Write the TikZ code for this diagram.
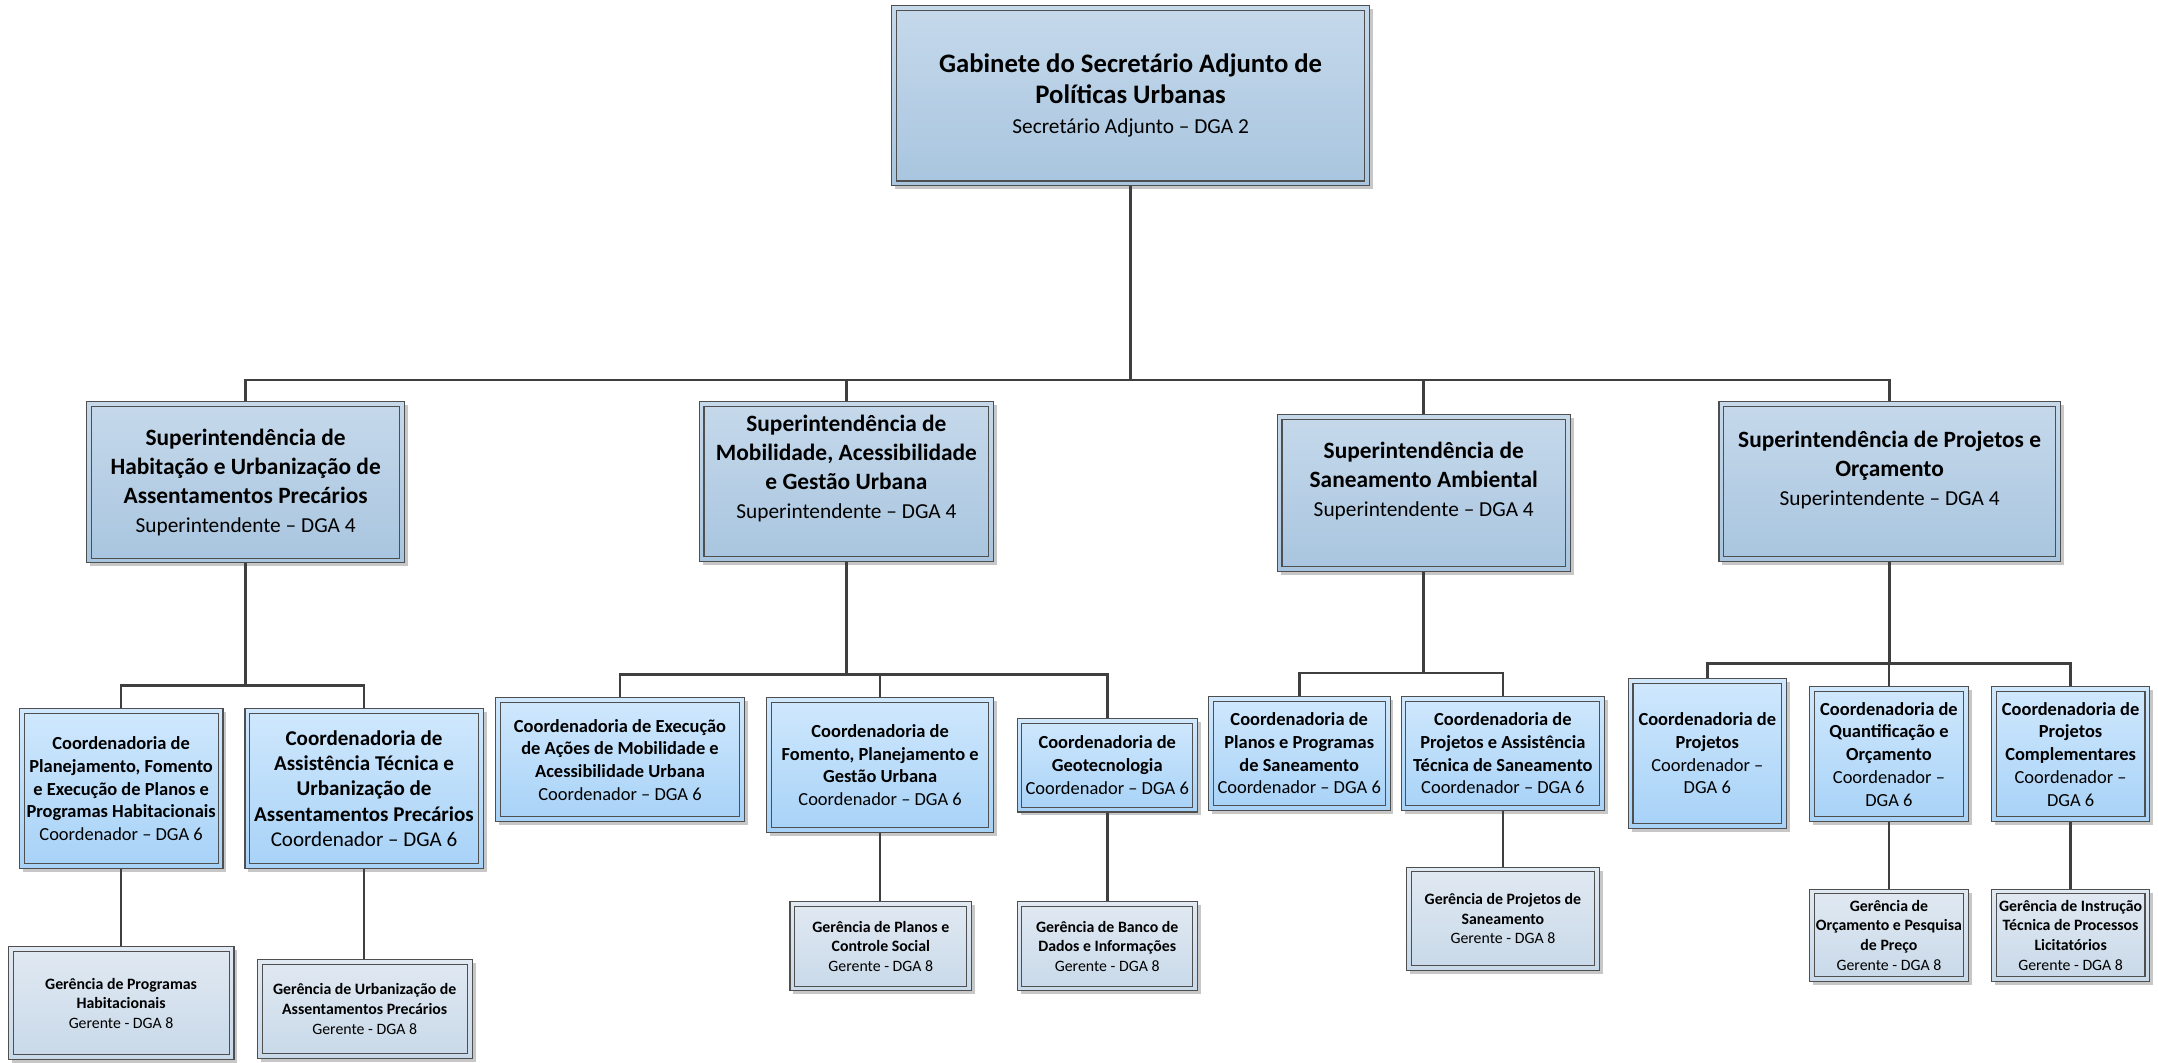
\documentclass[tikz,border=0pt]{standalone}
\usepackage{fontspec}
\setmainfont{Carlito}
\usetikzlibrary{shadows}
\definecolor{bordc}{HTML}{4F4F4F}
\definecolor{lnc}{HTML}{3F3F3F}
\definecolor{supT}{HTML}{C6D9EB}
\definecolor{supB}{HTML}{A8C5DF}
\definecolor{cT}{HTML}{D0E8FD}
\definecolor{cB}{HTML}{A7D2F7}
\definecolor{gT}{HTML}{E1E9F2}
\definecolor{gB}{HTML}{C8D9E9}
\newcommand\lowpad[1]{\rule[-#1]{0pt}{#1}}
\newcommand\subl[1]{{\fontsize{15.5}{19}\selectfont #1}}
\tikzset{
 orgbox/.style={rectangle, draw=bordc, line width=0.8pt, align=center, inner sep=1pt, text=black,
   drop shadow={shadow xshift=2.5pt, shadow yshift=-2.5pt, fill=black!22, opacity=1},
   path picture={\draw[bordc, line width=0.8pt] ([shift={(3.5pt,-3.5pt)}]path picture bounding box.north west) rectangle ([shift={(-3.5pt,3.5pt)}]path picture bounding box.south east);}},
 supbox/.style={orgbox, top color=supT, bottom color=supB, font=\fontsize{17}{21}\selectfont},
 topbox/.style={supbox, font=\fontsize{19.4}{22}\selectfont},
 cbox/.style={orgbox, top color=cT, bottom color=cB, font=\fontsize{13.4}{16.5}\selectfont},
 cboxbig/.style={cbox, font=\fontsize{15.3}{18.5}\selectfont},
 gbox/.style={orgbox, top color=gT, bottom color=gB, font=\fontsize{11.5}{14.3}\selectfont},
 conn/.style={draw=lnc, line width=1.9pt},
 sz/.style 2 args={minimum width=#1pt, minimum height=#2pt}
}
\begin{document}
\begin{tikzpicture}[x=1pt,y=-1pt]
\useasboundingbox (0,0) rectangle (1568,771.7);
\fill[white] (0,0) rectangle (1568,771.7);
% top
\node[topbox, sz={347}{131}] (top) at (821.5,69.5) {\textbf{Gabinete do Secretário Adjunto de}\\\textbf{Políticas Urbanas}\\\subl{Secretário Adjunto -- DGA 2}};
% superintendencias
\node[supbox, sz={231}{117}] (s1) at (178.5,350.5) {\textbf{Superintendência de}\\\textbf{Habitação e Urbanização de}\\\textbf{Assentamentos Precários}\\\subl{Superintendente -- DGA 4}};
\node[supbox, sz={214}{116}] (s2) at (615,350) {\textbf{Superintendência de}\\\textbf{Mobilidade, Acessibilidade}\\\textbf{e Gestão Urbana}\\\subl{Superintendente -- DGA 4\lowpad{22pt}}};
\node[supbox, sz={213}{114}] (s3) at (1034.5,358) {\textbf{Superintendência de}\\\textbf{Saneamento Ambiental}\\\subl{Superintendente -- DGA 4\lowpad{20pt}}};
\node[supbox, sz={248}{116}] (s4) at (1373,350) {\textbf{Superintendência de Projetos e}\\\textbf{Orçamento}\\\subl{Superintendente -- DGA 4\lowpad{20pt}}};
% coordenadorias
\node[cbox, sz={148}{116}] (c1a) at (88,573) {\textbf{Coordenadoria de}\\\textbf{Planejamento, Fomento}\\\textbf{e Execução de Planos e}\\\textbf{Programas Habitacionais}\\Coordenador -- DGA 6};
\node[cboxbig, sz={173}{116}] (c1b) at (264.5,573) {\textbf{Coordenadoria de}\\\textbf{Assistência Técnica e}\\\textbf{Urbanização de}\\\textbf{Assentamentos Precários}\\Coordenador -- DGA 6};
\node[cbox, sz={181}{90}] (c2a) at (450.5,552) {\textbf{Coordenadoria de Execução}\\\textbf{de Ações de Mobilidade e}\\\textbf{Acessibilidade Urbana}\\Coordenador -- DGA 6};
\node[cbox, sz={165}{98}] (c2b) at (639.5,556) {\textbf{Coordenadoria de}\\\textbf{Fomento, Planejamento e}\\\textbf{Gestão Urbana}\\Coordenador -- DGA 6};
\node[cbox, sz={131}{68}] (c2c) at (804.5,556) {\textbf{Coordenadoria de}\\\textbf{Geotecnologia}\\Coordenador -- DGA 6};
\node[cbox, sz={132}{83}] (c3a) at (944,547.5) {\textbf{Coordenadoria de}\\\textbf{Planos e Programas}\\\textbf{de Saneamento}\\Coordenador -- DGA 6};
\node[cbox, sz={148}{83}] (c3b) at (1092,547.5) {\textbf{Coordenadoria de}\\\textbf{Projetos e Assistência}\\\textbf{Técnica de Saneamento}\\Coordenador -- DGA 6};
\node[cbox, sz={115}{109}] (c4a) at (1240.5,547.5) {\textbf{Coordenadoria de}\\\textbf{Projetos}\\Coordenador --\\DGA 6};
\node[cbox, sz={115}{98}] (c4b) at (1372.5,548) {\textbf{Coordenadoria de}\\\textbf{Quantificação e}\\\textbf{Orçamento}\\Coordenador --\\DGA 6};
\node[cbox, sz={115}{98}] (c4c) at (1504.5,548) {\textbf{Coordenadoria de}\\\textbf{Projetos}\\\textbf{Complementares}\\Coordenador --\\DGA 6};
% gerencias
\node[gbox, sz={164}{82}] (g1a) at (88,729) {\textbf{Gerência de Programas}\\\textbf{Habitacionais}\\Gerente - DGA 8};
\node[gbox, sz={156}{72}] (g1b) at (265,733) {\textbf{Gerência de Urbanização de}\\\textbf{Assentamentos Precários}\\Gerente - DGA 8};
\node[gbox, sz={132}{65}] (g2b) at (640,687.5) {\textbf{Gerência de Planos e}\\\textbf{Controle Social}\\Gerente - DGA 8};
\node[gbox, sz={131}{65}] (g2c) at (804.5,687.5) {\textbf{Gerência de Banco de}\\\textbf{Dados e Informações}\\Gerente - DGA 8};
\node[gbox, sz={140}{75}] (g3b) at (1092,667.5) {\textbf{Gerência de Projetos de}\\\textbf{Saneamento}\\Gerente - DGA 8};
\node[gbox, sz={115}{67}] (g4b) at (1372.5,679.5) {\textbf{Gerência de}\\\textbf{Orçamento e Pesquisa}\\\textbf{de Preço}\\Gerente - DGA 8};
\node[gbox, sz={115}{67}] (g4c) at (1504.5,679.5) {\textbf{Gerência de Instrução}\\\textbf{Técnica de Processos}\\\textbf{Licitatórios}\\Gerente - DGA 8};
% buses
\coordinate (b0) at (821.5,276);
\coordinate (b1) at (178.5,498);
\coordinate (b2) at (615,490);
\coordinate (b3) at (1034.5,489);
\coordinate (b4) at (1373,482);
% connectors
\draw[conn] (top.south) -- (b0);
\draw[conn] (s1.north) -- (s1.north |- b0) -- (s4.north |- b0) -- (s4.north);
\draw[conn] (s2.north) -- (s2.north |- b0);
\draw[conn] (s3.north) -- (s3.north |- b0);
\draw[conn] (s1.south) -- (b1);
\draw[conn] (c1a.north) -- (c1a.north |- b1) -- (c1b.north |- b1) -- (c1b.north);
\draw[conn] (s2.south) -- (b2);
\draw[conn] (c2a.north) -- (c2a.north |- b2) -- (c2c.north |- b2) -- (c2c.north);
\draw[conn] (c2b.north) -- (c2b.north |- b2);
\draw[conn] (s3.south) -- (b3);
\draw[conn] (c3a.north) -- (c3a.north |- b3) -- (c3b.north |- b3) -- (c3b.north);
\draw[conn] (s4.south) -- (b4);
\draw[conn] (c4a.north) -- (c4a.north |- b4) -- (c4c.north |- b4) -- (c4c.north);
\draw[conn] (c4b.north) -- (c4b.north |- b4);
\draw[conn] (c1a.south) -- (c1a.south |- g1a.north);
\draw[conn] (c1b.south) -- (c1b.south |- g1b.north);
\draw[conn] (c2b.south) -- (c2b.south |- g2b.north);
\draw[conn] (c2c.south) -- (c2c.south |- g2c.north);
\draw[conn] (c3b.south) -- (c3b.south |- g3b.north);
\draw[conn] (c4b.south) -- (c4b.south |- g4b.north);
\draw[conn] (c4c.south) -- (c4c.south |- g4c.north);
\end{tikzpicture}
\end{document}
